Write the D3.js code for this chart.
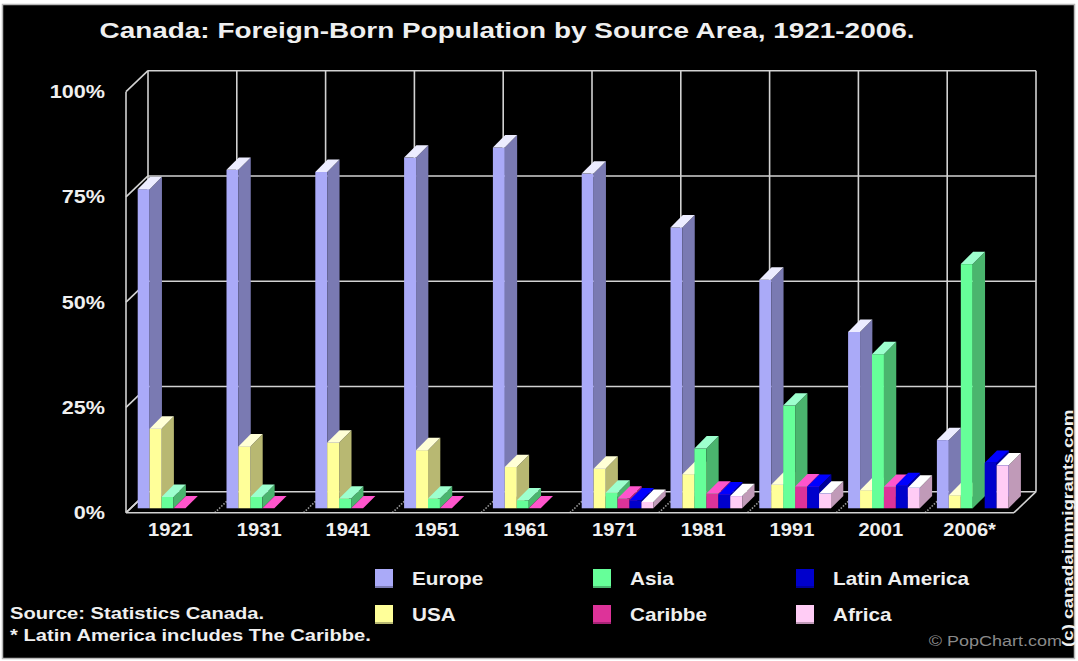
<!DOCTYPE html>
<html>
<head>
<meta charset="utf-8">
<script src="https://cdn.jsdelivr.net/npm/d3@7"></script>
<style>
  body { margin: 0; background: #fff; }
  text { font-family: "Liberation Sans", Arial, sans-serif; font-weight: bold; }
</style>
</head>
<body>
<div id="chart"></div>
<script>
// chart values (percent of foreign-born population)
var years = ["1921", "1931", "1941", "1951", "1961", "1971", "1981", "1991", "2001", "2006*"];
var europe       = [75.8, 80.4, 79.9, 83.3, 85.7, 79.5, 66.7, 54.3, 41.9, 16.2];
var usa          = [18.9, 14.7, 15.6, 13.8, 9.8, 9.4, 8.1, 5.6, 4.3, 3.1];
var asia         = [2.7, 2.7, 2.3, 2.3, 1.9, 3.7, 14.2, 24.4, 36.6, 58.0];
var caribbean    = [0, 0, 0, 0, 0, 2.3, 3.5, 5.2, 5.1, null];
var latinAmerica = [null, null, null, null, null, 1.9, 3.3, 5.1, 5.5, 10.8];
var africa       = [null, null, null, null, null, 1.5, 2.9, 3.5, 4.9, 10.2];
var yTicks = [0, 25, 50, 75, 100];

var seriesNames = ["Europe", "USA", "Asia", "Caribbe", "Latin America", "Africa"];
var seriesValues = [europe, usa, asia, caribbean, latinAmerica, africa];
// front / side / top colours for each series
var colors = [
  {front: "#aaaaf8", side: "#7a7ab2", top: "#ececff"},
  {front: "#ffff99", side: "#b8b872", top: "#ffffd6"},
  {front: "#66ff99", side: "#4ab56e", top: "#9dffce"},
  {front: "#dd3399", side: "#a82377", top: "#ff55cc"},
  {front: "#0000cc", side: "#00009a", top: "#0000ff"},
  {front: "#ffccf5", side: "#c09ab8", top: "#ffffff"}
];

var W = 1078, H = 661;
var svg = d3.select("#chart").append("svg")
    .attr("width", W)
    .attr("height", H);

svg.append("rect")
    .attr("x", 2.5).attr("y", 4.5)
    .attr("width", 1072).attr("height", 654)
    .attr("fill", "#000")
    .attr("stroke", "#b8b8b8")
    .attr("stroke-width", 1.5);

// 3d box geometry
var wallDX = 22, wallDY = 21;
var x = d3.scaleBand().domain(years).range([126, 1014]);
var yFront = d3.scaleLinear().domain([0, 100]).range([512.7, 91.7]);
var yBar = d3.scaleLinear().domain([0, 100]).range([508.3, 87.3]);
var slot = 11.95, barDX = 12.3, barDY = 12.4;

var grid = svg.append("g")
    .attr("stroke", "#d2d2d2")
    .attr("stroke-width", 1.6)
    .attr("fill", "none");

// back wall horizontal lines
grid.selectAll(".hline")
  .data(yTicks)
  .enter().append("line")
    .attr("x1", 126 + wallDX).attr("x2", 1014 + wallDX)
    .attr("y1", function(d) { return yFront(d) - wallDY; })
    .attr("y2", function(d) { return yFront(d) - wallDY; });

// left wall diagonals
grid.selectAll(".dline")
  .data(yTicks)
  .enter().append("line")
    .attr("x1", 126).attr("x2", 126 + wallDX)
    .attr("y1", function(d) { return yFront(d); })
    .attr("y2", function(d) { return yFront(d) - wallDY; });

// back wall verticals at category edges
var edges = years.map(function(d) { return x(d); }).concat([1014]);
grid.selectAll(".vline")
  .data(edges)
  .enter().append("line")
    .attr("x1", function(d) { return d + wallDX; })
    .attr("x2", function(d) { return d + wallDX; })
    .attr("y1", yFront(100) - wallDY)
    .attr("y2", yFront(0) - wallDY);

// floor diagonals
grid.selectAll(".fline")
  .data(edges)
  .enter().append("line")
    .attr("x1", function(d) { return d; })
    .attr("x2", function(d) { return d + wallDX; })
    .attr("y1", yFront(0))
    .attr("y2", yFront(0) - wallDY)
    .attr("stroke", function(d, i) { return (i == 0 || i == edges.length - 1) ? "#d2d2d2" : "#9a9a9a"; })
    .attr("stroke-dasharray", function(d, i) { return (i == 0 || i == edges.length - 1) ? null : "1.5,1.5"; });

// front axis and front floor edge
grid.append("line")
    .attr("x1", 126).attr("x2", 126)
    .attr("y1", yFront(100)).attr("y2", yFront(0));
grid.append("line")
    .attr("x1", 126).attr("x2", 1014)
    .attr("y1", yFront(0)).attr("y2", yFront(0));

// bars, drawn left to right so later boxes cover earlier side faces
var bars = svg.append("g");
years.forEach(function(yr, ci) {
  seriesValues.forEach(function(vals, si) {
    var v = vals[ci];
    if (v === null) return;
    var x0 = x(yr) + 11.7 + si * slot, x1 = x0 + slot;
    var yt = yBar(v), yb = yBar(0);
    var c = colors[si];
    var g = bars.append("g");
    g.append("rect")
        .attr("x", x0).attr("y", yt)
        .attr("width", slot).attr("height", yb - yt)
        .attr("fill", c.front);
    g.append("polygon")
        .attr("points", [[x1, yt], [x1 + barDX, yt - barDY], [x1 + barDX, yb - barDY], [x1, yb]].join(" "))
        .attr("fill", c.side);
    g.append("polygon")
        .attr("points", [[x0, yt], [x0 + barDX, yt - barDY], [x1 + barDX, yt - barDY], [x1, yt]].join(" "))
        .attr("fill", c.top);
  });
});

// text helper: the source picture is stretched sideways
function label(x0, y0, str, size, anchor, sx, fill, weight) {
  return svg.append("text")
      .attr("transform", "translate(" + x0 + "," + y0 + ") scale(" + sx + ",1)")
      .attr("text-anchor", anchor)
      .style("font-size", size + "px")
      .style("font-weight", weight || "bold")
      .attr("fill", fill || "#efefef")
      .text(str);
}

label(507, 38, "Canada: Foreign-Born Population by Source Area, 1921-2006.", 22, "middle", 1.27);

yTicks.forEach(function(t) {
  label(105, yFront(t) + 6.5, t + "%", 18, "end", 1.2);
});

years.forEach(function(yr) {
  label(x(yr) + x.bandwidth() / 2, 536, yr, 19, "middle", 1.06);
});

// legend, filled row by row
var legX = [375, 593, 796];
var legY = [569, 605];
var legendOrder = [0, 2, 4, 1, 3, 5];
legendOrder.forEach(function(si, k) {
  var lx = legX[k % 3], ly = legY[Math.floor(k / 3)];
  svg.append("rect")
      .attr("x", lx).attr("y", ly)
      .attr("width", 18).attr("height", 19)
      .attr("fill", colors[si].front);
  svg.append("rect")
      .attr("x", lx).attr("y", ly + 17)
      .attr("width", 18).attr("height", 2)
      .attr("fill", colors[si].side);
  label(lx + 37, ly + 16, seriesNames[si], 18, "start", 1.15);
});

label(10, 619, "Source: Statistics Canada.", 16, "start", 1.26);
label(10, 641, "* Latin America includes The Caribbe.", 16, "start", 1.26);
label(1062, 646, "\u00a9 PopChart.com", 15, "end", 1.2, "#8a8a8a", "normal");

svg.append("text")
    .attr("transform", "translate(1073,647) rotate(-90) scale(1.25,1)")
    .attr("text-anchor", "start")
    .style("font-size", "15px")
    .attr("fill", "#efefef")
    .text("(c) canadaimmigrants.com");
</script>
</body>
</html>
